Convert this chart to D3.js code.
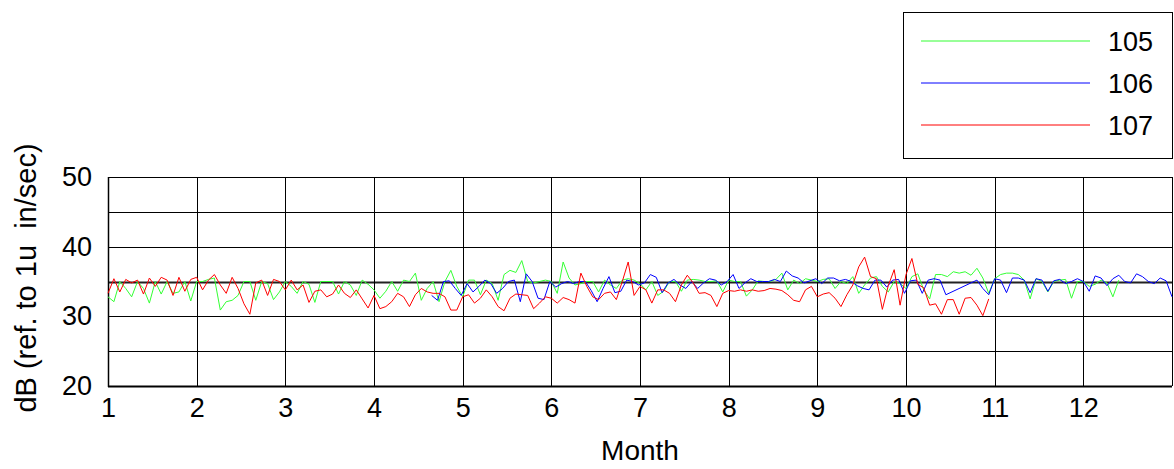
<!DOCTYPE html>
<html>
<head>
<meta charset="utf-8">
<script src="https://cdn.jsdelivr.net/npm/d3@7"></script>
<style>
  body { margin: 0; background: #fff; }
  text { font-family: "Liberation Sans", Arial, sans-serif; fill: #000; }
</style>
</head>
<body>
<script>
// readings are every 2 days (1/15 month), series start at their first month
let seriesNames = ['105', '106', '107']
let seriesColors = ['#33ff33', '#0000ff', '#ff0000']
let monthTicks = [1, 2, 3, 4, 5, 6, 7, 8, 9, 10, 11, 12]
let dbTicks = [20, 30, 40, 50]
let step = 1 / 15

let start105 = 1
let values105 = [
  32.8, 32.1, 35.0, 34.0, 32.8, 35.0, 34.0, 31.9, 35.0, 33.2, 35.0, 33.3, 33.5, 35.0, 32.2,
  35.0, 35.0, 35.3, 35.5, 30.9, 32.1, 32.3, 33.0, 35.0, 35.0, 32.3, 35.0, 34.7, 32.4, 33.5,
  35.0, 34.3, 33.3, 35.0, 34.6, 32.0, 35.0, 35.0, 35.0, 33.2, 35.0, 34.5, 33.0, 35.2, 34.6,
  33.8, 32.6, 33.6, 35.0, 33.6, 35.2, 35.0, 36.2, 32.3, 34.0, 35.0, 32.1, 35.0, 36.6, 34.3,
  32.8, 35.2, 35.2, 33.1, 35.2, 34.7, 32.3, 36.0, 36.6, 36.3, 38.0, 35.0, 34.8, 35.0, 35.2,
  35.0, 33.3, 37.8, 35.5, 34.5, 34.7, 35.0, 35.0, 33.5, 35.2, 34.5, 34.0, 35.2, 35.4, 35.2,
  34.7, 33.8, 35.0, 33.0, 33.6, 35.0, 35.0, 33.6, 35.2, 35.3, 35.2, 35.0, 35.0, 35.1, 33.5,
  35.2, 35.0, 35.0, 32.9, 33.8, 35.1, 35.0, 35.0, 35.3, 36.2, 33.8, 35.2, 34.7, 35.4, 35.2,
  35.0, 35.3, 35.4, 34.0, 35.0, 34.7, 35.7, 33.3, 34.5, 35.5, 35.7, 34.3, 33.5, 35.0, 34.7,
  34.0, 35.7, 36.1, 33.8, 32.5, 36.0, 36.0, 35.7, 36.4, 36.2, 36.4, 35.9, 36.9, 35.5, 33.3,
  35.4, 36.0, 36.2, 36.2, 36.0, 35.2, 32.5, 35.4, 35.0, 33.5, 35.0, 35.2, 35.3, 32.6, 35.0,
  35.0, 34.3, 34.6, 35.2, 34.8, 32.8, 35.2
]

// 106 has a gap in the data late in month 10
let start106a = 4.65
let values106a = [
  33.0, 32.3, 35.0, 35.1, 34.0, 33.0, 34.7, 33.5, 34.3, 35.2, 34.7, 33.3, 34.0, 35.0, 35.2,
  32.1, 36.1, 35.0, 32.6, 32.4, 35.0, 34.2, 34.7, 35.0, 34.7, 35.0, 35.0, 33.7, 32.1, 34.0,
  35.7, 33.4, 33.6, 35.2, 35.0, 34.5, 34.8, 36.0, 35.6, 33.4, 34.8, 35.3, 34.5, 34.0, 35.0,
  34.0, 34.8, 35.4, 35.2, 34.5, 35.0, 36.0, 34.0, 34.8, 35.4, 35.0, 35.0, 35.0, 35.3, 35.0,
  36.5, 35.8, 35.5, 34.8, 35.1, 35.4, 34.7, 35.5, 35.5, 35.1, 35.3, 35.0, 34.4, 34.0, 33.8,
  35.2, 35.2, 34.2, 35.2, 35.3, 33.3, 35.1, 35.2, 33.3, 35.2, 35.4, 35.2, 33.1
]
let start106b = 10.8
let values106b = [
  35.2, 34.0, 33.1, 35.4, 35.2, 33.4, 35.5, 35.5, 35.2, 33.4, 35.4, 35.2, 33.6, 35.1, 35.3,
  34.7, 35.0, 35.4, 35.0, 33.6, 35.8, 35.5, 34.4, 35.4, 35.9, 35.0, 34.8, 36.1, 35.7, 35.0,
  34.7, 35.5, 35.1, 32.8
]

let start107 = 1
let values107 = [
  33.3, 35.4, 33.5, 35.3, 34.8, 35.2, 33.2, 35.5, 34.3, 35.6, 35.2, 33.0, 35.6, 33.6, 35.3,
  35.6, 33.8, 35.2, 36.0, 34.5, 33.3, 35.6, 34.0, 31.8, 30.3, 34.8, 35.2, 33.0, 35.3, 35.0,
  33.8, 35.2, 33.8, 34.5, 32.0, 33.6, 33.8, 32.8, 33.2, 34.5, 33.3, 32.7, 33.8, 32.5, 31.2,
  33.0, 31.1, 31.4, 32.1, 33.3, 32.8, 31.4, 33.1, 34.0, 33.5, 33.3, 33.3, 32.8, 30.9, 30.9,
  32.8, 33.1, 31.9, 32.6, 33.8, 32.8, 31.4, 30.8, 32.6, 33.2, 33.1, 33.0, 31.1, 31.9, 32.8,
  32.6, 31.9, 32.7, 32.4, 31.9, 36.2, 34.3, 32.8, 32.4, 33.3, 33.5, 32.4, 35.0, 37.8, 33.0,
  34.3, 33.8, 31.9, 33.8, 33.8, 33.3, 32.1, 34.5, 35.9, 34.8, 33.3, 33.4, 33.0, 31.4, 33.3,
  33.7, 33.6, 33.8, 33.6, 33.8, 33.6, 33.7, 34.0, 33.9, 33.7, 33.1, 32.3, 32.1, 33.8, 34.3,
  32.8, 33.2, 33.4, 32.6, 31.4, 33.1, 34.5, 37.1, 38.5, 35.7, 35.4, 31.0, 34.4, 36.7, 31.6,
  36.0, 38.3, 34.6, 34.1, 31.6, 31.8, 30.3, 32.4, 32.4, 30.3, 32.6, 32.7, 31.6, 30.1, 32.5
]

function toPoints(start, values) {
    return values.map(function(v, i) { return [start + i * step, v] })
}

function main() {
    let width = 1174
    let height = 469
    let left = 108, right = 1172, top = 177, bottom = 386

    let x = d3.scaleLinear().domain([1, 13]).range([left, right])
    let y = d3.scaleLinear().domain([20, 50]).range([bottom, top])

    let svg = d3.select('body').append('svg')
        .attr('width', width)
        .attr('height', height)

    // grid: every 5 dB and every month
    svg.append('g')
        .selectAll('line')
        .data(d3.range(20, 51, 5))
        .enter().append('line')
        .attr('x1', left).attr('x2', right)
        .attr('y1', function(d) { return Math.round(y(d)) + 0.5 })
        .attr('y2', function(d) { return Math.round(y(d)) + 0.5 })
        .attr('stroke', function(d) { return d == 35 ? '#222' : '#000' })
        .attr('stroke-width', function(d) { return d == 35 ? 2 : 1 })

    svg.append('g')
        .selectAll('line')
        .data(d3.range(1, 14))
        .enter().append('line')
        .attr('x1', function(d) { return Math.round(x(d)) + 0.5 })
        .attr('x2', function(d) { return Math.round(x(d)) + 0.5 })
        .attr('y1', top).attr('y2', bottom)
        .attr('stroke', '#000')

    // heavier frame on the axis sides
    svg.append('line')
        .attr('x1', left).attr('x2', right)
        .attr('y1', bottom + 0.5).attr('y2', bottom + 0.5)
        .attr('stroke', '#000').attr('stroke-width', 2)
    svg.append('line')
        .attr('x1', left + 0.5).attr('x2', left + 0.5)
        .attr('y1', top).attr('y2', bottom + 1)
        .attr('stroke', '#000').attr('stroke-width', 1.5)

    let line = d3.line()
        .x(function(d) { return x(d[0]) })
        .y(function(d) { return y(d[1]) })

    let series = [
        toPoints(start105, values105),
        toPoints(start106a, values106a).concat(toPoints(start106b, values106b)),
        toPoints(start107, values107)
    ]

    svg.append('g')
        .selectAll('path')
        .data(series)
        .enter().append('path')
        .attr('d', line)
        .attr('fill', 'none')
        .attr('stroke', function(d, i) { return seriesColors[i] })
        .attr('stroke-width', 1)

    // axes
    let xAxis = svg.append('g')
        .attr('transform', 'translate(0,' + bottom + ')')
        .call(d3.axisBottom(x).tickValues(monthTicks).tickSize(0).tickPadding(12).tickFormat(d3.format('d')))
    xAxis.select('.domain').remove()
    xAxis.selectAll('text').style('font-size', '27px')

    let yAxis = svg.append('g')
        .attr('transform', 'translate(' + left + ',0)')
        .call(d3.axisLeft(y).tickValues(dbTicks).tickSize(0).tickPadding(16))
    yAxis.select('.domain').remove()
    yAxis.selectAll('text').style('font-size', '27px')

    svg.append('text')
        .attr('x', (left + right) / 2)
        .attr('y', 460)
        .attr('text-anchor', 'middle')
        .style('font-size', '28px')
        .text('Month')

    svg.append('text')
        .attr('transform', 'translate(36,' + 278 + ') rotate(-90)')
        .attr('text-anchor', 'middle')
        .style('font-size', '29px')
        .style('white-space', 'pre')
        .text('dB (ref. to 1u  in/sec)')

    // legend
    let legend = svg.append('g')
    legend.append('rect')
        .attr('x', 903.5).attr('y', 12.5)
        .attr('width', 269).attr('height', 146)
        .attr('fill', '#fff')
        .attr('stroke', '#000')

    let rows = legend.selectAll('g.row')
        .data(seriesNames)
        .enter().append('g')
        .attr('class', 'row')
        .attr('transform', function(d, i) { return 'translate(0,' + (41 + i * 42) + ')' })

    rows.append('line')
        .attr('x1', 921).attr('x2', 1090)
        .attr('stroke', function(d, i) { return seriesColors[i] })
        .attr('stroke-width', 1)
    rows.append('text')
        .attr('x', 1108)
        .attr('dy', '0.36em')
        .style('font-size', '27px')
        .text(function(d) { return d })
}

main()
</script>
</body>
</html>
